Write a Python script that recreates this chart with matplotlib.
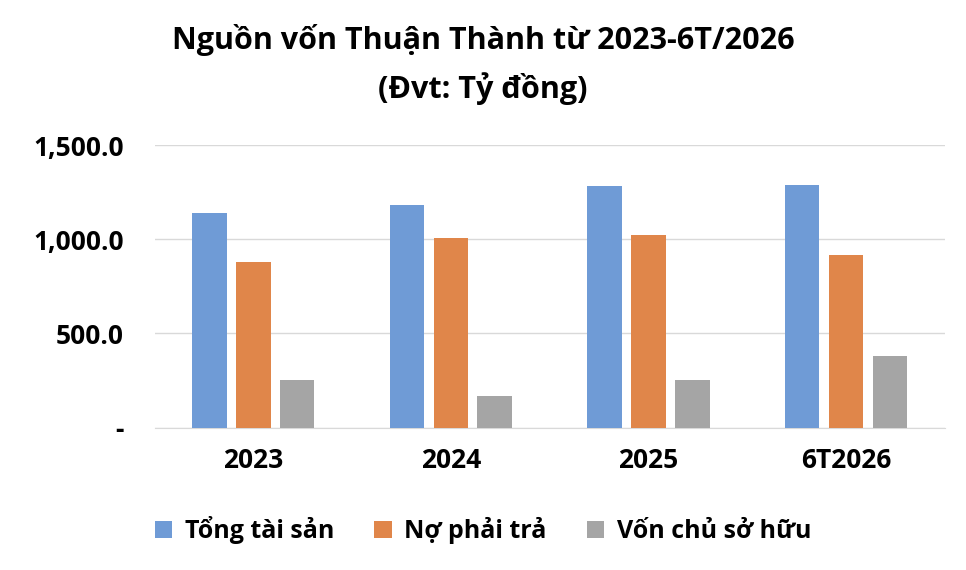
import matplotlib
matplotlib.use("Agg")
import matplotlib.pyplot as plt
import numpy as np
from matplotlib.ticker import FuncFormatter

categories = ["2023", "2024", "2025", "6T2026"]
tong_tai_san = [1138, 1181, 1282, 1287]
no_phai_tra = [878, 1005, 1021, 915]
von_chu_so_huu = [255, 170, 255, 378]
series_names = ["Tổng tài sản", "Nợ phải trả", "Vốn chủ sở hữu"]
colors = ["#6F9BD6", "#E0864A", "#A5A5A5"]

plt.rcParams['font.family'] = ['Open Sans', 'DejaVu Sans']
fig = plt.figure(figsize=(9.66, 5.70), dpi=100)
ax = fig.add_axes([0.16, 0.25, 0.818, 0.495])
x = np.arange(len(categories))
w = 0.175
step = 0.222
for i, (vals, name, c) in enumerate(zip([tong_tai_san, no_phai_tra, von_chu_so_huu], series_names, colors)):
    ax.bar(x + (i - 1) * step, vals, w, color=c, label=name, zorder=3)
ax.set_ylim(0, 1500)
ax.set_xlim(-0.5, len(categories) - 0.5)
ax.set_yticks([0, 500, 1000, 1500])
ax.yaxis.set_major_formatter(FuncFormatter(lambda v, p: "-" if v == 0 else f"{v:,.1f}"))
ax.grid(axis='y', color='#D9D9D9', lw=1, zorder=0)
for s in ['top', 'right', 'left']:
    ax.spines[s].set_visible(False)
ax.spines['bottom'].set_color('#D9D9D9')
ax.tick_params(axis='both', length=0, labelsize=19)
ax.tick_params(axis='y', pad=22)
ax.tick_params(axis='x', pad=14)
ax.set_xticks(x)
ax.set_xticklabels(categories)
for lab in ax.get_xticklabels() + ax.get_yticklabels():
    lab.set_fontweight('bold')
fig.text(0.5, 0.93, "Nguồn vốn Thuận Thành từ 2023-6T/2026", ha='center', va='center', fontsize=22, fontweight='bold')
fig.text(0.5, 0.845, "(Đvt: Tỷ đồng)", ha='center', va='center', fontsize=22, fontweight='bold')
fig.legend(loc='center', bbox_to_anchor=(0.5, 0.07), ncol=3, frameon=False,
           prop={'size': 18, 'weight': 'bold'}, handlelength=0.7, handleheight=0.7, columnspacing=1.6, handletextpad=0.5)
fig.savefig("out.png", dpi=100, facecolor='white')
